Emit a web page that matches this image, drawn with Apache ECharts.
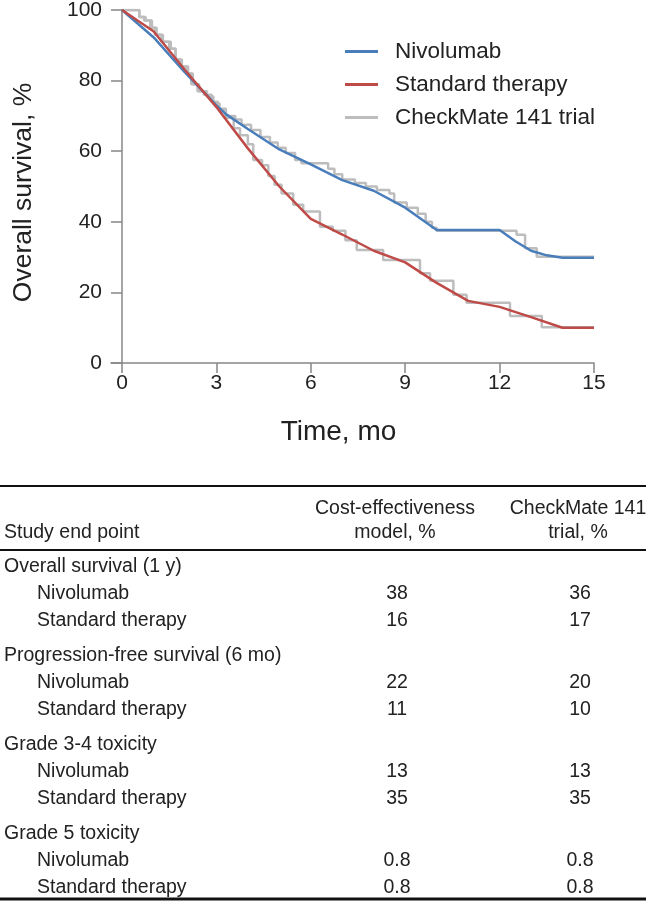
<!DOCTYPE html>
<html>
<head>
<meta charset="utf-8">
<script src="https://cdn.jsdelivr.net/npm/echarts@6/dist/echarts.min.js"></script>
<style>
  html, body { margin: 0; padding: 0; background: #fff; }
  #main { width: 646px; height: 902px; }
</style>
</head>
<body>
<div id="main"></div>
<script>
// model curves [month, %]
const nivoModel = [[0,100],[1,92.3],[2,82.3],[3,73],[3.3,70.5],[4,66.3],[5,60.5],[6,56.3],[7,51.8],[8,48.8],[9,44],[10,37.7],[12,37.7],[12.5,34.5],[13,31.8],[13.5,30.5],[14,29.8],[15,29.8]];
const stdModel = [[0,100],[1,94],[2,83],[3,72.5],[4,60.8],[5,50],[6,40.8],[7,36.4],[8,31.8],[9,28.5],[10,22.7],[11,17.6],[12,15.9],[13,13],[14,10],[15,10]];

// CheckMate 141 Kaplan-Meier steps [month, % after drop]
const nivoTrial = [[0,100],[0.55,98],[0.7,97],[0.9,95],[1.05,93],[1.25,91],[1.5,89],[1.7,86],[1.85,84],[2.05,82],[2.2,79],[2.4,77],[2.6,76],[2.85,74],[3.05,72],[3.3,70],[3.6,69],[3.8,67.5],[4.1,66],[4.4,64],[4.7,62.5],[4.95,61],[5.2,59.5],[5.5,57.5],[5.7,56.6],[6.55,55],[6.75,53.5],[7.0,52],[7.4,51],[7.75,50],[8.1,49],[8.5,48],[8.65,45.5],[9.05,44],[9.4,42.3],[9.65,40],[9.85,38.3],[10.0,37.5],[12.54,36.3],[12.81,32.5],[13.18,30.1],[15,30.1]];
const stdTrial = [[0,100],[0.55,98],[0.75,97],[0.95,95],[1.1,93],[1.3,91],[1.55,89],[1.7,86],[1.9,84],[2.1,82],[2.25,79],[2.45,77],[2.7,75.5],[2.9,73.5],[3.1,71.5],[3.3,69.5],[3.55,66.5],[3.75,64.5],[4.0,62],[4.17,57.5],[4.45,56],[4.65,53],[4.85,50.5],[5.07,48],[5.44,44.8],[5.76,42.9],[6.29,38.6],[6.7,37.5],[7.1,34.8],[7.46,32],[8.3,29.2],[9.47,25.4],[9.79,23.3],[10.53,19.3],[10.95,17.1],[12.33,13.3],[13.34,10.1],[15,10.1]];

const xTicks = [0, 3, 6, 9, 12, 15];

// table below the chart
const tableGroups = ['Overall survival (1 y)', 'Progression-free survival (6 mo)', 'Grade 3-4 toxicity', 'Grade 5 toxicity'];
const tableArms = ['Nivolumab', 'Standard therapy'];
const modelValues = [[38, 16], [22, 11], [13, 35], [0.8, 0.8]];
const trialValues = [[36, 17], [20, 10], [13, 35], [0.8, 0.8]];

const FONT = 'Liberation Sans, Arial, sans-serif';
const INK = '#222';
const AXIS = '#878787';

var graphic = [];
function hline(y, w) {
    graphic.push({ type: 'line', shape: { x1: 0, y1: y, x2: 646, y2: y }, style: { stroke: '#111', lineWidth: w } });
}
function txt(s, x, y, align) {
    graphic.push({ type: 'text', x: x, y: y, style: { text: s, fill: INK, font: '19.5px ' + FONT, textAlign: align, textVerticalAlign: 'middle', lineHeight: 24 } });
}
hline(486, 2);
hline(550, 2);
hline(899, 3);
txt('Study end point', 4, 533, 'left');
txt('Cost-effectiveness', 395, 509, 'center');
txt('model, %', 395, 533, 'center');
txt('CheckMate 141', 578, 509, 'center');
txt('trial, %', 578, 533, 'center');
tableGroups.forEach(function (g, i) {
    var y0 = 567 + i * 89;
    txt(g, 4, y0, 'left');
    tableArms.forEach(function (a, j) {
        var y = y0 + 27 * (j + 1);
        txt(a, 37, y, 'left');
        txt(String(modelValues[i][j]), 397, y, 'center');
        txt(String(trialValues[i][j]), 580, y, 'center');
    });
});

var myChart = echarts.init(document.getElementById('main'));
myChart.setOption({
    backgroundColor: '#fff',
    animation: false,
    textStyle: { fontFamily: FONT },
    grid: { left: 111, right: 52, top: 10, bottom: 539, containLabel: false, outerBoundsMode: 'none' },
    legend: {
        orient: 'vertical',
        left: 345,
        top: 40,
        padding: 0,
        itemWidth: 33,
        itemHeight: 3,
        itemGap: 10,
        icon: 'rect',
        data: ['Nivolumab', 'Standard therapy', 'CheckMate 141 trial'],
        textStyle: { fontSize: 22.5, color: INK, padding: [0, 0, 0, 12], lineHeight: 22.5 }
    },
    xAxis: {
        type: 'value',
        min: -0.35,
        max: 15,
        name: 'Time, mo',
        nameLocation: 'middle',
        nameGap: 55,
        nameMoveOverlap: false,
        nameTextStyle: { fontSize: 28, color: INK, padding: [0, 28, 0, 0] },
        axisLine: { onZero: false, lineStyle: { color: AXIS, width: 1.5 } },
        axisTick: { show: true, length: 10, customValues: xTicks, lineStyle: { color: AXIS, width: 1.5 } },
        axisLabel: { customValues: xTicks, fontSize: 21, color: INK, margin: 10 },
        splitLine: { show: false }
    },
    yAxis: {
        type: 'value',
        min: 0,
        max: 100,
        interval: 20,
        offset: -11,
        name: 'Overall survival, %',
        nameLocation: 'middle',
        nameGap: 85,
        nameMoveOverlap: false,
        nameTextStyle: { fontSize: 26.5, color: INK, padding: [0, 12, 0, 0] },
        axisLine: { show: true, onZero: false, lineStyle: { color: AXIS, width: 1.5 } },
        axisTick: { show: true, length: 11, lineStyle: { color: AXIS, width: 1.5 } },
        axisLabel: { fontSize: 21, color: INK, margin: 20 },
        splitLine: { show: false }
    },
    series: [
        { name: 'CheckMate 141 trial', type: 'line', step: 'end', data: nivoTrial, showSymbol: false, color: '#bdbdbd', lineStyle: { width: 2.5, color: '#bdbdbd' }, z: 1 },
        { name: 'CheckMate 141 trial', type: 'line', step: 'end', data: stdTrial, showSymbol: false, color: '#bdbdbd', lineStyle: { width: 2.5, color: '#bdbdbd' }, z: 1 },
        { name: 'Nivolumab', type: 'line', data: nivoModel, showSymbol: false, color: '#4a7ebb', lineStyle: { width: 2.5, color: '#4a7ebb' }, z: 3 },
        { name: 'Standard therapy', type: 'line', data: stdModel, showSymbol: false, color: '#be4b48', lineStyle: { width: 2.5, color: '#be4b48' }, z: 3 }
    ],
    graphic: graphic
});
</script>
</body>
</html>
